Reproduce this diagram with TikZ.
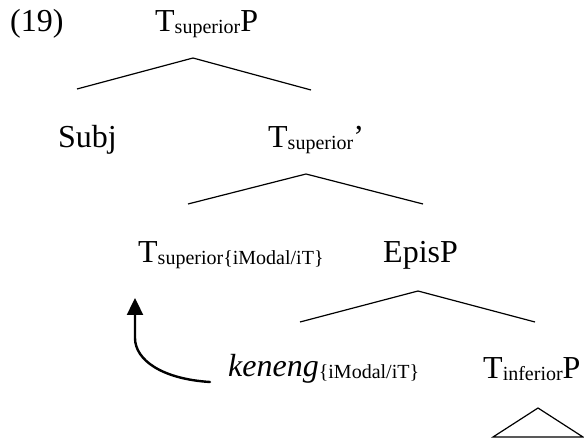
\documentclass[tikz,border=0pt]{standalone}
\usepackage{fontspec}
\setmainfont{Liberation Serif}
\usetikzlibrary{arrows.meta,calc}
% category labels and their lowered, smaller subscripts
\newcommand{\treefont}{\fontsize{32}{38}\selectfont}
\newcommand{\lowsub}[1]{\raisebox{-2pt}{\fontsize{20}{24}\selectfont #1}}
\begin{document}
\begin{tikzpicture}[x=1pt,y=-1pt,
  lab/.style={anchor=base west,inner sep=0pt,font=\treefont},
  branch/.style={line width=1.2pt,line join=miter},
  move/.style={line width=2.4pt,line cap=round,-{Triangle[length=17pt,width=16pt,line cap=butt]}}]
\useasboundingbox (0,0) rectangle (584,438);

% labels
\node[lab] (ex)   at (10,32)   {(19)};
\node[lab] (tp)   at (155,32)  {T\lowsub{superior}P};
\node[lab] (subj) at (58,148)  {Subj};
\node[lab] (tbar) at (268,148) {T\lowsub{superior}’};
\node[lab] (tsup) at (138,263) {T\lowsub{superior\{iModal/iT\}}};
\node[lab] (epis) at (383,263) {EpisP};
\node[lab] (ken)  at (228,377) {\textit{keneng}\lowsub{\{iModal/iT\}}};
\node[lab] (tinf) at (483,378) {T\lowsub{inferior}P};

% branch points
\coordinate (b1l) at (77,89);   \coordinate (b1t) at (193,58);  \coordinate (b1r) at (311,90);
\coordinate (b2l) at (188,204); \coordinate (b2t) at (306,174); \coordinate (b2r) at (423,204);
\coordinate (b3l) at (300,322); \coordinate (b3t) at (418,291); \coordinate (b3r) at (535,322);
\coordinate (trl) at (493,437); \coordinate (trt) at (538,408); \coordinate (trr) at (583,437);

\draw[branch] (b1l) -- (b1t) -- (b1r);
\draw[branch] (b2l) -- (b2t) -- (b2r);
\draw[branch] (b3l) -- (b3t) -- (b3r);
\draw[branch] (trl) -- (trt) -- (trr) -- cycle;

% head movement of keneng
\coordinate (mvstart) at ($(ken.base west)+(-18,5)$);
\coordinate (mvend)   at ($(tsup.base west)+(-3,35)$);
\draw[move] (mvstart) .. controls ($(mvstart)+(-48,-3)$) and ($(mvend)+(0,62)$) .. ($(mvend)+(0,40)$) -- (mvend);
\end{tikzpicture}
\end{document}
